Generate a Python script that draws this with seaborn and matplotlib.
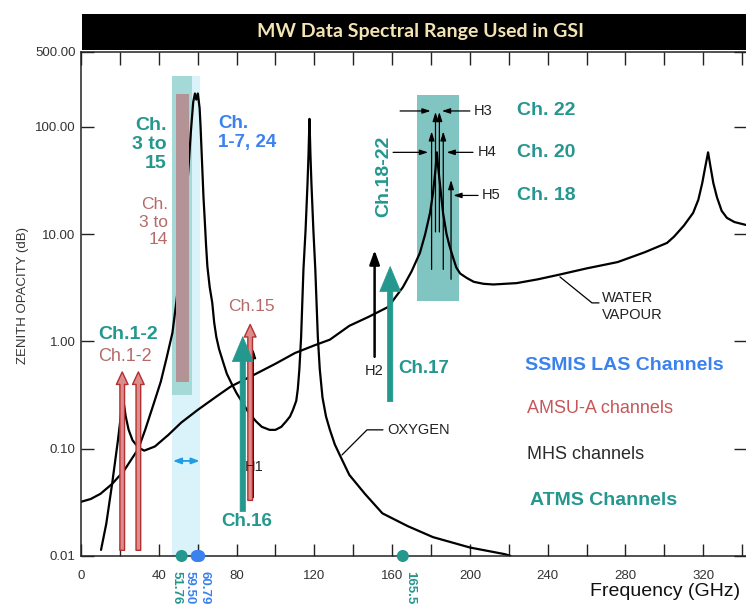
import matplotlib
matplotlib.use("Agg")
import matplotlib.pyplot as plt
from matplotlib.patches import Rectangle
from matplotlib.ticker import NullLocator
import seaborn as sns

# ---------------- data ----------------
oxygen_ghz = [0, 5, 10, 16, 22, 26, 29.5, 33, 37, 41, 44, 47, 49, 51, 53, 55, 56.5, 57.7,
              58.6, 59.3, 60.1, 61, 61.5, 62, 62.4, 63, 63.6, 64.3, 65, 66.2, 67.5, 68.5,
              69.6, 71, 73, 75, 77.3, 80, 83, 86, 90, 93, 97, 100, 103, 105.5, 107.5, 109,
              110.7, 111.5, 112.3, 113.2, 114.4, 115.5, 116.5, 117, 117.5, 118, 118.5, 119.5,
              120.5, 121.8, 122.8, 124.2, 126, 128, 130.5, 133, 138, 146, 155, 168, 181, 200,
              218, 221]
oxygen_db = [0.032, 0.034, 0.038, 0.047, 0.062, 0.08, 0.1, 0.15, 0.25, 0.42, 0.7, 1.2, 2.3, 5,
             12, 35, 90, 170, 205, 180, 205, 150, 100, 60, 40, 22, 14, 8, 5, 3.2, 2.3, 1.5,
             1.1, 0.85, 0.65, 0.5, 0.41, 0.33, 0.27, 0.22, 0.18, 0.16, 0.15, 0.15, 0.16, 0.18,
             0.2, 0.23, 0.28, 0.36, 0.55, 1.1, 4.7, 11, 30, 55, 119, 55, 30, 11, 4.7, 1.1,
             0.55, 0.3, 0.2, 0.15, 0.11, 0.088, 0.057, 0.038, 0.025, 0.019, 0.015, 0.012,
             0.0104, 0.01]

water_ghz = [10.3, 13, 16, 19, 21.6, 23, 24.5, 26.5, 29.4, 32.5, 38, 45, 51.5, 60, 70, 77, 90,
             100, 110, 120, 128, 138, 148, 158, 165.5, 170, 174.3, 177, 179.5, 181, 182.3, 183,
             183.7, 185, 186.2, 188, 189.5, 191.3, 193, 195, 198.5, 202, 207, 212, 218, 224,
             235, 246, 260, 276, 290, 301.4, 305, 310, 314.8, 317.5, 319.5, 321, 322.5, 323.8,
             325.2, 327.1, 329.5, 332.2, 336, 342]
water_db = [0.0114, 0.02, 0.047, 0.12, 0.30, 0.2, 0.15, 0.12, 0.103, 0.096, 0.105, 0.135, 0.175,
            0.23, 0.31, 0.38, 0.5, 0.62, 0.78, 0.92, 1.04, 1.4, 1.7, 2.1, 3.2, 4.5, 6.7, 10,
            15.8, 24, 40, 58, 42, 25, 15.8, 10, 7.8, 6.1, 4.9, 4.3, 3.9, 3.6, 3.45, 3.4, 3.45,
            3.5, 3.8, 4.2, 4.8, 5.5, 6.8, 8.3, 9.5, 12, 15.8, 21, 30, 42, 58, 42, 30, 22, 16.5,
            14.2, 13, 12.2]

# highlighted bands: (f_low, f_high, dB_low, dB_high)
band_cyan = (47.0, 61.3, 0.01, 300)
band_teal = (47.0, 57.2, 0.32, 300)
band_amsu = (49.0, 55.7, 0.42, 203)
band_183 = (172.7, 194.3, 2.4, 200)

# channel arrows: frequency, start dB, end dB
amsua_low_ghz = [21.2, 29.5]
amsua_low_db = (0.0113, 0.52)
amsua_ch15 = (87.0, 0.033, 1.44)
mhs_h1 = (88.6, 0.035, 0.85)
atms_ch16 = (83.2, 0.026, 1.11)
atms_ch17 = (159.0, 0.275, 5.0)
mhs_h2 = (151.0, 0.72, 7.1)
mhs_183_ghz = [182.31, 184.31, 180.31, 186.31, 190.31]
mhs_183_lo = [10.5, 10.5, 4.7, 4.7, 3.8]
mhs_183_hi = [138, 138, 91, 91, 32]

# frequency markers on the axis
marker_ghz = [51.76, 59.50, 60.79, 165.5]
marker_text = ["51.76", "59.50", "60.79", "165.5"]

y_ticks = [0.01, 0.1, 1, 10, 100, 500]
y_ticklabels = ["0.01", "0.10", "1.00", "10.00", "100.00", "500.00"]
x_ticks = list(range(0, 321, 40))

TEAL = "#24978e"
BLUE = "#3b82ee"
RED_TXT = "#b56a6a"
RED_LEG = "#c65859"

# ---------------- figure ----------------
sns.set_theme(style="ticks")
plt.rcParams["font.family"] = ["Liberation Sans", "DejaVu Sans"]

fig = plt.figure(figsize=(7.46, 6.08), dpi=100)
ax = fig.add_axes([81 / 746, 52 / 608, 665 / 746, 504 / 608])
ax.set_yscale("log")
ax.set_xlim(0, 342)
ax.set_ylim(0.01, 500)

# shaded spectral windows
def band(b, color, z):
    ax.bar(b[0], b[3] - b[2], bottom=b[2], width=b[1] - b[0], align="edge",
           color=color, edgecolor="none", linewidth=0, zorder=z)

band(band_cyan, "#daf2fa", 0.5)
band(band_teal, "#a4d9d7", 0.6)
band(band_183, "#80c5c2", 0.6)

# absorption curves
sns.lineplot(x=oxygen_ghz, y=oxygen_db, sort=False, estimator=None, color="black",
             lw=1.6, ax=ax, zorder=2)
sns.lineplot(x=water_ghz, y=water_db, sort=False, estimator=None, color="black",
             lw=1.6, ax=ax, zorder=2)

band(band_amsu, "#b39396", 3)

def arrow(x, y0, y1, **props):
    props.setdefault("shrinkA", 0)
    props.setdefault("shrinkB", 0)
    ax.annotate("", xy=(x, y1), xytext=(x, y0), arrowprops=props, zorder=4)

red_style = dict(arrowstyle="simple,head_width=0.7,head_length=0.75,tail_width=0.28",
                 fc="#dc8c8c", ec="#b3302f", lw=1.0)
teal_style = dict(arrowstyle="simple,head_width=1.25,head_length=1.5,tail_width=0.32",
                  fc=TEAL, ec=TEAL, lw=0.5)
thin_black = dict(arrowstyle="-|>,head_width=0.14,head_length=0.45", color="black", lw=0.9)

arrow(mhs_h1[0], mhs_h1[1], mhs_h1[2], **thin_black)
for f in amsua_low_ghz:
    arrow(f, amsua_low_db[0], amsua_low_db[1], **red_style)
arrow(amsua_ch15[0], amsua_ch15[1], amsua_ch15[2], **red_style)
arrow(atms_ch16[0], atms_ch16[1], atms_ch16[2], **teal_style)
arrow(atms_ch17[0], atms_ch17[1], atms_ch17[2], **teal_style)
arrow(mhs_h2[0], mhs_h2[1], mhs_h2[2],
      arrowstyle="-|>,head_width=0.25,head_length=0.7", color="black", lw=1.8)
for f, lo, hi in zip(mhs_183_ghz, mhs_183_lo, mhs_183_hi):
    arrow(f, lo, hi, **thin_black)

# pointers to the 183 GHz channel pairs
def pointer(x0, x1, y):
    ax.annotate("", xy=(x1, y), xytext=(x0, y), zorder=4,
                arrowprops=dict(arrowstyle="-|>,head_width=0.13,head_length=0.4",
                                color="black", lw=0.9, shrinkA=0, shrinkB=0))

pointer(164.1, 179.8, 141)
pointer(200.0, 185.6, 141)
pointer(160.5, 178.5, 58)
pointer(201.6, 188.0, 58)
pointer(204.2, 191.5, 23)

# width of the SSMIS window
ax.annotate("", xy=(61.0, 0.077), xytext=(47.3, 0.077), zorder=4,
            arrowprops=dict(arrowstyle="<|-|>,head_width=0.15,head_length=0.4",
                            color="#1f9de4", lw=1.3, shrinkA=0, shrinkB=0))

# curve labels with leader lines
ax.plot([134.2, 147.1, 155.3], [0.0875, 0.15, 0.15], color="black", lw=0.9, zorder=4)
ax.text(157.4, 0.15, "OXYGEN", fontsize=10.5, color="#222", va="center", ha="left")
ax.plot([246.3, 262.8, 266.4], [4.0, 2.29, 2.29], color="black", lw=0.9, zorder=4)
ax.text(268, 2.12, "WATER\nVAPOUR", fontsize=10.5, color="#222", va="center", ha="left",
        linespacing=1.25)

# channel annotations
ax.text(24.2, 1.17, "Ch.1-2", color=TEAL, fontsize=14, fontweight="bold",
        ha="center", va="center")
ax.text(22.6, 0.72, "Ch.1-2", color=RED_TXT, fontsize=13, ha="center", va="center")
ax.text(44.2, 69, "Ch.\n3 to\n15", color=TEAL, fontsize=14, fontweight="bold",
        ha="right", va="center", multialignment="right", linespacing=1.15)
ax.text(44.7, 13, "Ch.\n3 to\n14", color=RED_TXT, fontsize=12.5,
        ha="right", va="center", multialignment="right", linespacing=1.2)
ax.text(70.5, 88, "Ch.\n1-7, 24", color=BLUE, fontsize=13.5, fontweight="bold",
        ha="left", va="center", linespacing=1.15)
ax.text(87.4, 2.14, "Ch.15", color=RED_TXT, fontsize=12.5, ha="center", va="center")
ax.text(85.4, 0.0208, "Ch.16", color=TEAL, fontsize=13.5, fontweight="bold",
        ha="center", va="center")
ax.text(89.0, 0.0676, "H1", fontsize=10.5, color="#222", ha="center", va="center", zorder=5)
ax.text(155.8, 34.9, "Ch.18-22", color=TEAL, fontsize=14, fontweight="bold",
        ha="center", va="center", rotation=90)
ax.text(150.7, 0.53, "H2", fontsize=10.5, color="#222", ha="center", va="center")
ax.text(163.0, 0.555, "Ch.17", color=TEAL, fontsize=13.5, fontweight="bold",
        ha="left", va="center")
for name, x_name, ch, v in [("H3", 201.8, "Ch. 22", 141), ("H4", 203.8, "Ch. 20", 58),
                            ("H5", 206.3, "Ch. 18", 23)]:
    ax.text(x_name, v, name, fontsize=10.5, color="#222", ha="left", va="center")
    ax.text(224.2, v, ch, color=TEAL, fontsize=14, fontweight="bold", ha="left", va="center")

# instrument key
ax.text(228.3, 0.60, "SSMIS LAS Channels", color=BLUE, fontsize=14, fontweight="bold",
        ha="left", va="center")
ax.text(229.4, 0.235, "AMSU-A channels", color=RED_LEG, fontsize=13, ha="left", va="center")
ax.text(229.4, 0.0875, "MHS channels", color="#2a2a2a", fontsize=13, ha="left", va="center")
ax.text(230.9, 0.0326, "ATMS Channels", color=TEAL, fontsize=14, fontweight="bold",
        ha="left", va="center")

# frequency markers
marker_colors = [TEAL, BLUE, BLUE, TEAL]
marker_dx = [-3.6, -5.2, 3.6, 5.5]
ax.scatter(marker_ghz, [0.01] * len(marker_ghz), s=75, c=marker_colors,
           clip_on=False, zorder=6, linewidths=0)
for f, t, c, dx in zip(marker_ghz, marker_text, marker_colors, marker_dx):
    ax.annotate(t, xy=(f, 0.01), xytext=(dx, -11), textcoords="offset points",
                rotation=270, ha="center", va="top", color=c, fontsize=9.5,
                fontweight="bold", annotation_clip=False)

# axes styling
ax.set_xticks(x_ticks)
ax.set_xticks(list(range(20, 341, 40)), minor=True)
ax.set_xticklabels([str(v) for v in x_ticks])
ax.set_yticks(y_ticks)
ax.set_yticklabels(y_ticklabels)
ax.yaxis.set_minor_locator(NullLocator())
ax.tick_params(axis="both", which="both", direction="in", top=True, right=True,
               length=9, width=1.0, color="#222", labelcolor="#333", labelsize=9.5)
ax.tick_params(axis="x", which="both", pad=10)
ax.tick_params(axis="y", pad=4)
for side in ["left", "bottom", "top"]:
    ax.spines[side].set_color("#222")
    ax.spines[side].set_linewidth(1.1)
ax.spines["right"].set_visible(False)
ax.set_xlabel("")
ax.set_ylabel("")

fig.text(23 / 746, 1 - 295 / 608, "ZENITH OPACITY (dB)", rotation=90, fontsize=9.5,
         color="#333", ha="center", va="center")
fig.text(740 / 746, 1 - 592 / 608, "Frequency (GHz)", fontsize=14, color="#111",
         ha="right", va="center")

# title bar
fig.patches.append(Rectangle((82 / 746, 1 - 50 / 608), 664 / 746, 36 / 608,
                             transform=fig.transFigure, facecolor="black",
                             edgecolor="none", zorder=10))
fig.text(420 / 746, 1 - 32 / 608, "MW Data Spectral Range Used in GSI", fontsize=14,
         family=["Lato", "DejaVu Sans"], fontweight="bold", color="#f3e4b4",
         ha="center", va="center", zorder=11)

fig.savefig("out.png", dpi=100)
